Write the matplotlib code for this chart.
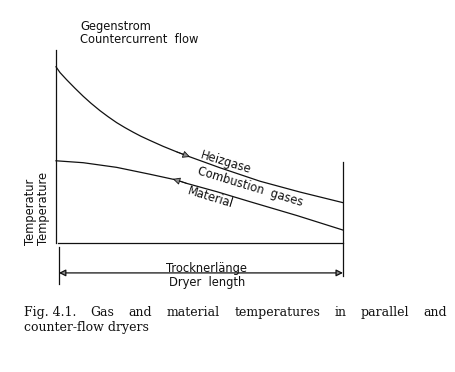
import matplotlib
matplotlib.use("Agg")
import matplotlib.pyplot as plt

# --- data (dryer length in %, temperature in relative units) ---
gas_x = [0, 1.4, 3.7, 6.6, 9.5, 12.2, 15.3, 18.1, 21.1, 24.0, 26.9, 29.6, 32.8, 37.3,
         42.1, 46.7, 57.1, 71.1, 85.0, 100]
gas_t = [91.3, 88.3, 84.6, 80.2, 76.0, 72.4, 68.6, 65.5, 62.4, 59.8, 57.4, 55.3, 53.1, 50.1,
         47.2, 44.6, 39.0, 32.0, 26.4, 20.9]
mat_x = [0, 9.5, 21.1, 32.8, 42.1, 45.5, 56.0, 67.6, 84.0, 100]
mat_t = [42.6, 41.6, 39.2, 35.6, 32.6, 30.9, 26.6, 21.4, 14.2, 6.7]

header = ["Gegenstrom", "Countercurrent  flow"]
ylabels = ["Temperatur", "Temperature"]
xlabels = ["Trocknerlänge", "Dryer  length"]
caption1 = ["Fig. 4.1.", "Gas", "and", "material", "temperatures", "in", "parallel", "and"]
caption2 = "counter-flow dryers"

W, H = 456, 372
fig = plt.figure(figsize=(W / 100, H / 100), dpi=100)
ax = fig.add_axes([56 / W, 1 - 243 / H, 287 / W, 193 / H])
ax.set_xlim(0, 100)
ax.set_ylim(0, 100)
ax.axis("off")

ink = "#111111"
lw = 0.9

# frame: temperature axis, baseline, end line
ax.plot([0, 0], [0, 100], color=ink, lw=lw, clip_on=False)
ax.plot([0.8, 100], [0, 0], color=ink, lw=lw, clip_on=False)
ax.plot([100, 100], [42, -17], color=ink, lw=lw, clip_on=False)
ax.plot([1, 1], [-2, -21], color=ink, lw=lw, clip_on=False)

# curves
ax.plot(gas_x, gas_t, color=ink, lw=lw, clip_on=False)
ax.plot(mat_x, mat_t, color=ink, lw=lw, clip_on=False)

# flow direction arrows
head = dict(arrowstyle="-|>", color=ink, lw=0.6, fc="0.55", mutation_scale=11,
            shrinkA=0, shrinkB=0)
ax.annotate("", xy=(gas_x[15], gas_t[15]), xytext=(gas_x[14], gas_t[14]), arrowprops=head)
ax.annotate("", xy=(mat_x[4] - 1.4, mat_t[4] + 0.6), xytext=(mat_x[5], mat_t[5]), arrowprops=head)

# dimension arrow for dryer length
dim = dict(arrowstyle="<|-|>", color=ink, lw=lw, fc="0.55", mutation_scale=10,
           shrinkA=0, shrinkB=0)
ax.annotate("", xy=(1, -15.5), xytext=(100, -15.5), arrowprops=dim, annotation_clip=False)

fs = 8.3
ax.text(52.6, -13.2, xlabels[0], ha="center", va="center", fontsize=fs, color=ink)
ax.text(52.6, -20.3, xlabels[1], ha="center", va="center", fontsize=fs, color=ink)

ax.text(8.4, 112.4, header[0], ha="left", va="center", fontsize=fs, color=ink)
ax.text(8.4, 105.6, header[1], ha="left", va="center", fontsize=fs, color=ink)

fig.text(30.5 / W, 1 - 245 / H, ylabels[0], rotation=90, ha="center", va="bottom",
         fontsize=fs, color=ink)
fig.text(43.5 / W, 1 - 245 / H, ylabels[1], rotation=90, ha="center", va="bottom",
         fontsize=fs, color=ink)

rot = -17
ax.text(59.2, 41.5, "Heizgase", rotation=rot, ha="center", va="center",
        fontsize=fs, color=ink, rotation_mode="anchor")
ax.text(67.6, 28.9, "Combustion  gases", rotation=rot, ha="center", va="center",
        fontsize=fs, color=ink, rotation_mode="anchor")
ax.text(53.7, 23.8, "Material", rotation=rot, ha="center", va="center",
        fontsize=fs, color=ink, rotation_mode="anchor")

# caption, first line justified between left and right margins
cfs = 9.0
serif = "DejaVu Serif"
renderer = fig.canvas.get_renderer()
left, right = 24, 447
words = [fig.text(0, 0, w, fontsize=cfs, family=serif, color=ink) for w in caption1]
widths = [t.get_window_extent(renderer).width for t in words]
gap = (right - left - sum(widths)) / (len(words) - 1)
x = left
for t, w in zip(words, widths):
    t.set_position((x / W, 1 - 316 / H))
    x += w + gap
fig.text(left / W, 1 - 331 / H, caption2, fontsize=cfs, family=serif, color=ink)

fig.savefig("out.png", dpi=100)
